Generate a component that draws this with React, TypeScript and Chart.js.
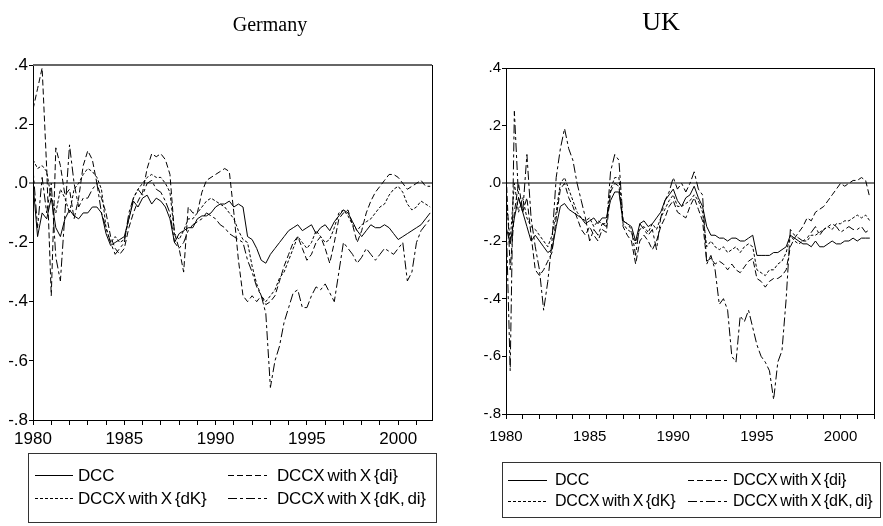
import React, { useEffect, useRef } from "react";
import { Chart, registerables } from "chart.js";
Chart.register(...registerables);

// quarterly observation dates
const DATES = [
  1980, 1980.25, 1980.5, 1980.75, 1981, 1981.25, 1981.5, 1981.75,
  1982, 1982.25, 1982.5, 1982.75, 1983, 1983.25, 1983.5, 1983.75,
  1984, 1984.25, 1984.5, 1984.75, 1985, 1985.25, 1985.5, 1985.75,
  1986, 1986.25, 1986.5, 1986.75, 1987, 1987.25, 1987.5, 1987.75,
  1988, 1988.25, 1988.5, 1988.75, 1989, 1989.25, 1989.5, 1989.75,
  1990, 1990.25, 1990.5, 1990.75, 1991, 1991.25, 1991.5, 1991.75,
  1992, 1992.25, 1992.5, 1992.75, 1993, 1993.25, 1993.5, 1993.75,
  1994, 1994.25, 1994.5, 1994.75, 1995, 1995.25, 1995.5, 1995.75,
  1996, 1996.25, 1996.5, 1996.75, 1997, 1997.25, 1997.5, 1997.75,
  1998, 1998.25, 1998.5, 1998.75, 1999, 1999.25, 1999.5, 1999.75,
  2000, 2000.25, 2000.5, 2000.75, 2001, 2001.25, 2001.5, 2001.75,
];

const SERIES_LABELS = ["DCC", "DCCX with X {di}", "DCCX with X {dK}", "DCCX with X {dK, di}"];
const TITLES = ["Germany", "UK"];
const Y_TICKS = [-0.8, -0.6, -0.4, -0.2, 0.0, 0.2, 0.4];

// Germany
const G_DCC = [
  0.00, -0.18, -0.10, -0.12, -0.05, -0.15, -0.18, -0.12,
  -0.09, -0.11, -0.12, -0.10, -0.10, -0.08, -0.08, -0.10,
  -0.17, -0.21, -0.20, -0.19, -0.18, -0.12, -0.06, -0.08,
  -0.05, -0.04, -0.07, -0.05, -0.06, -0.08, -0.12, -0.20,
  -0.17, -0.16, -0.15, -0.15, -0.12, -0.11, -0.11, -0.10,
  -0.08, -0.07, -0.07, -0.06, -0.08, -0.07, -0.08, -0.18,
  -0.19, -0.22, -0.26, -0.27, -0.24, -0.22, -0.20, -0.18,
  -0.16, -0.15, -0.14, -0.16, -0.15, -0.14, -0.17, -0.15,
  -0.14, -0.16, -0.13, -0.11, -0.09, -0.10, -0.13, -0.16,
  -0.18, -0.16, -0.14, -0.15, -0.15, -0.14, -0.15, -0.17,
  -0.19, -0.18, -0.17, -0.16, -0.15, -0.14, -0.12, -0.10,
];
const G_DI = [
  0.25, 0.32, 0.39, 0.05, -0.38, 0.12, 0.06, -0.04,
  -0.02, -0.12, -0.05, 0.06, 0.11, 0.08, 0.00, -0.05,
  -0.10, -0.18, -0.22, -0.24, -0.22, -0.15, -0.10, -0.06,
  -0.03, 0.05, 0.10, 0.09, 0.10, 0.08, 0.03, -0.17,
  -0.22, -0.30, -0.08, -0.10, -0.10, -0.03, 0.01, 0.02,
  0.03, 0.04, 0.05, 0.04, -0.10, -0.26, -0.38, -0.40,
  -0.38, -0.40, -0.38, -0.41, -0.40, -0.38, -0.33, -0.28,
  -0.24, -0.20, -0.18, -0.22, -0.26, -0.24, -0.20, -0.18,
  -0.22, -0.27, -0.20, -0.12, -0.10, -0.09, -0.14, -0.20,
  -0.16, -0.10, -0.06, -0.03, -0.01, 0.01, 0.03, 0.03,
  0.02, 0.00, -0.02, -0.01, 0.00, 0.01, -0.01, -0.01,
];
const G_DK = [
  0.08, 0.05, 0.06, 0.04, -0.05, -0.10, -0.02, -0.05,
  -0.10, -0.02, 0.00, 0.03, 0.05, 0.04, 0.02, -0.02,
  -0.15, -0.20, -0.18, -0.20, -0.19, -0.12, -0.05, -0.02,
  0.00, 0.02, 0.03, 0.02, 0.02, 0.00, -0.03, -0.17,
  -0.19, -0.16, -0.12, -0.12, -0.10, -0.08, -0.06, -0.05,
  -0.06, -0.07, -0.08, -0.10, -0.12, -0.16, -0.19, -0.20,
  -0.28, -0.34, -0.38, -0.40, -0.38, -0.36, -0.32, -0.30,
  -0.26, -0.22, -0.18, -0.20, -0.22, -0.20, -0.16, -0.18,
  -0.20, -0.19, -0.15, -0.10, -0.09, -0.11, -0.14, -0.16,
  -0.14, -0.13, -0.12, -0.10, -0.08, -0.07, -0.04, -0.02,
  -0.01, -0.03, -0.07, -0.09, -0.08, -0.06, -0.07, -0.08,
];
const G_DKDI = [
  0.05, -0.15, 0.02, -0.10, 0.00, -0.25, -0.33, -0.10,
  0.13, 0.00, -0.08, -0.05, -0.05, -0.02, 0.00, -0.10,
  -0.15, -0.20, -0.24, -0.22, -0.20, -0.10, -0.05, -0.02,
  -0.04, 0.00, 0.01, -0.02, -0.03, -0.06, -0.10, -0.20,
  -0.22, -0.20, -0.16, -0.14, -0.13, -0.12, -0.10, -0.11,
  -0.12, -0.14, -0.15, -0.17, -0.18, -0.19, -0.20, -0.26,
  -0.30, -0.35, -0.38, -0.44, -0.69, -0.60, -0.55, -0.47,
  -0.42, -0.37, -0.36, -0.42, -0.42, -0.38, -0.35, -0.36,
  -0.34, -0.37, -0.40, -0.30, -0.20, -0.22, -0.24, -0.27,
  -0.25, -0.22, -0.24, -0.26, -0.24, -0.22, -0.23, -0.24,
  -0.22, -0.20, -0.33, -0.30, -0.20, -0.16, -0.14, -0.12,
];

// UK
const U_DCC = [
  -0.15, -0.21, -0.12, -0.05, -0.10, -0.15, -0.20, -0.18,
  -0.20, -0.22, -0.24, -0.23, -0.15, -0.08, -0.07, -0.09,
  -0.10, -0.11, -0.12, -0.14, -0.13, -0.12, -0.14, -0.12,
  -0.12, -0.06, -0.03, -0.03, -0.13, -0.14, -0.15, -0.20,
  -0.14, -0.13, -0.15, -0.14, -0.12, -0.10, -0.06, -0.04,
  -0.02, -0.06, -0.08, -0.05, -0.04, -0.01, -0.05, -0.08,
  -0.15, -0.18, -0.18, -0.19, -0.19, -0.20, -0.19, -0.19,
  -0.20, -0.20, -0.19, -0.18, -0.25, -0.25, -0.25, -0.25,
  -0.24, -0.24, -0.23, -0.22, -0.18, -0.19, -0.20, -0.21,
  -0.21, -0.22, -0.20, -0.22, -0.22, -0.21, -0.20, -0.21,
  -0.21, -0.20, -0.20, -0.19, -0.20, -0.19, -0.19, -0.19,
];
const U_DI = [
  0.05, -0.30, -0.10, 0.00, -0.10, -0.05, -0.18, -0.30,
  -0.32, -0.30, -0.27, -0.24, -0.12, -0.02, 0.00, -0.05,
  -0.08, -0.12, -0.16, -0.18, -0.15, -0.18, -0.20, -0.16,
  -0.17, -0.03, 0.00, -0.01, -0.15, -0.18, -0.20, -0.28,
  -0.20, -0.18, -0.20, -0.23, -0.20, -0.15, -0.12, -0.08,
  -0.06, -0.10, -0.11, -0.12, -0.08, -0.05, -0.09, -0.13,
  -0.27, -0.26, -0.28, -0.27, -0.28, -0.30, -0.28, -0.30,
  -0.31, -0.29, -0.27, -0.26, -0.33, -0.34, -0.36, -0.34,
  -0.33, -0.33, -0.32, -0.30, -0.22, -0.19, -0.17, -0.15,
  -0.12, -0.13, -0.10, -0.09, -0.08, -0.06, -0.04, -0.02,
  0.00, -0.01, 0.00, 0.01, 0.01, 0.02, 0.01, -0.05,
];
const U_DK = [
  -0.05, -0.20, 0.00, -0.10, -0.05, -0.12, -0.15, -0.16,
  -0.18, -0.20, -0.22, -0.18, -0.10, 0.00, 0.02, -0.02,
  -0.06, -0.10, -0.12, -0.13, -0.12, -0.15, -0.13, -0.14,
  -0.14, -0.02, 0.02, 0.02, -0.14, -0.16, -0.17, -0.21,
  -0.16, -0.15, -0.17, -0.14, -0.16, -0.12, -0.09, -0.06,
  -0.04, -0.08, -0.08, -0.07, -0.06, -0.04, -0.06, -0.10,
  -0.22, -0.20, -0.22, -0.23, -0.22, -0.24, -0.23, -0.22,
  -0.24, -0.22, -0.21, -0.22, -0.30, -0.31, -0.32, -0.30,
  -0.30, -0.28, -0.27, -0.24, -0.18, -0.20, -0.21, -0.20,
  -0.20, -0.18, -0.18, -0.17, -0.16, -0.15, -0.16, -0.14,
  -0.14, -0.13, -0.13, -0.12, -0.11, -0.12, -0.11, -0.13,
];
const U_DKDI = [
  -0.10, -0.65, 0.25, -0.05, -0.10, 0.10, -0.12, -0.22,
  -0.30, -0.44, -0.34, -0.20, 0.02, 0.12, 0.19, 0.12,
  0.08, 0.00, -0.06, -0.12, -0.20, -0.16, -0.18, -0.14,
  -0.15, 0.04, 0.10, 0.08, -0.13, -0.14, -0.16, -0.25,
  -0.14, -0.16, -0.18, -0.16, -0.23, -0.12, -0.06, -0.03,
  0.02, -0.02, 0.00, -0.03, 0.00, 0.04, -0.02, -0.04,
  -0.28, -0.25, -0.30, -0.42, -0.40, -0.44, -0.60, -0.62,
  -0.46, -0.48, -0.44, -0.50, -0.56, -0.60, -0.62, -0.65,
  -0.75, -0.62, -0.58, -0.40, -0.16, -0.18, -0.19, -0.20,
  -0.19, -0.17, -0.15, -0.18, -0.16, -0.15, -0.14, -0.15,
  -0.17, -0.16, -0.15, -0.16, -0.16, -0.15, -0.17, -0.16,
];

const DASHES: number[][] = [[], [6, 3], [3, 2], [9, 3, 3, 3]];

type Panel = {
  left: number; width: number;
  plotLeft: number; plotTop: number; plotRight: number; plotBottom: number;
  xMax: number; tickFont: number; xPad: number;
  series: number[][];
  legendBox: [number, number, number, number];
  legendRows: [number, number];
  legendCols: [number, number, number][];
  legendFont: number;
  topColor: string; topWidth: number;
};

const fmtY = (v: number) => {
  const r = Math.round(v * 10) / 10;
  return r.toFixed(1).replace(/^(-?)0\./, "$1.").replace(/^-\.0$/, ".0");
};

function makeChart(canvas: HTMLCanvasElement, p: Panel) {
  const H = 526;
  const framePlugin = {
    id: "frame",
    afterDraw(chart: any) {
      const { ctx, chartArea: a } = chart;
      ctx.save();
      ctx.setLineDash([]);
      ctx.strokeStyle = p.topColor;
      ctx.lineWidth = p.topWidth;
      ctx.beginPath();
      ctx.moveTo(a.left, a.top + (p.topWidth === 1 ? 0.5 : 0));
      ctx.lineTo(a.right, a.top + (p.topWidth === 1 ? 0.5 : 0));
      ctx.stroke();
      ctx.strokeStyle = "#000";
      ctx.lineWidth = 1;
      ctx.beginPath();
      ctx.moveTo(Math.round(a.right) + 0.5, a.top);
      ctx.lineTo(Math.round(a.right) + 0.5, a.bottom);
      ctx.stroke();
      // legend
      const [x0, y0, x1, y1] = p.legendBox;
      ctx.strokeStyle = "#333";
      ctx.lineWidth = 1;
      ctx.strokeRect(x0 + 0.5, y0 + 0.5, x1 - x0, y1 - y0);
      ctx.font = `${p.legendFont}px "Liberation Sans", Arial, sans-serif`;
      try {
        (ctx as any).letterSpacing = "-0.2px";
        (ctx as any).wordSpacing = "-1.5px";
      } catch (e) {}
      ctx.fillStyle = "#000";
      ctx.textBaseline = "middle";
      ctx.textAlign = "left";
      SERIES_LABELS.forEach((lab, i) => {
        const row = i === 0 || i === 1 ? 0 : 1;
        const col = i === 0 || i === 2 ? 0 : 1;
        const [lx0, lx1, tx] = p.legendCols[col];
        const y = p.legendRows[row];
        ctx.strokeStyle = "#000";
        ctx.setLineDash(DASHES[i]);
        ctx.beginPath();
        ctx.moveTo(lx0, y + 0.5);
        ctx.lineTo(lx1, y + 0.5);
        ctx.stroke();
        ctx.setLineDash([]);
        ctx.fillText(lab, tx, y + 1);
      });
      ctx.restore();
    },
  };

  return new Chart(canvas, {
    type: "line",
    data: {
      datasets: p.series.map((s, i) => ({
        label: SERIES_LABELS[i],
        data: DATES.map((d, j) => ({ x: d, y: s[j] })),
        borderColor: "#000",
        borderWidth: 1,
        borderDash: DASHES[i],
        pointRadius: 0,
        tension: 0,
        fill: false,
      })),
    },
    options: {
      animation: false,
      responsive: false,
      devicePixelRatio: 1,
      layout: {
        padding: {
          left: 0,
          top: p.plotTop,
          right: p.width - p.plotRight,
          bottom: H - p.plotBottom - 30,
        },
      },
      plugins: { legend: { display: false }, tooltip: { enabled: false }, title: { display: false } },
      scales: {
        x: {
          type: "linear",
          min: 1980,
          max: p.xMax,
          afterFit: (s: any) => { s.height = 30; },
          ticks: {
            stepSize: 1,
            autoSkip: false,
            includeBounds: false,
            maxRotation: 0,
            padding: p.xPad,
            color: "#000",
            font: { family: '"Liberation Sans", Arial, sans-serif', size: p.tickFont },
            callback: (v: any) => (Math.round(v) % 5 === 0 ? String(Math.round(v)) : ""),
          },
          grid: { display: true, drawOnChartArea: false, drawTicks: true, tickLength: 5, tickColor: "#000", tickWidth: 1 },
          border: { display: true, color: "#000", width: 1 },
        },
        y: {
          type: "linear",
          min: Y_TICKS[0],
          max: Y_TICKS[Y_TICKS.length - 1],
          afterFit: (s: any) => { s.width = p.plotLeft; },
          ticks: {
            stepSize: 0.2,
            padding: 1,
            color: "#000",
            font: { family: '"Liberation Sans", Arial, sans-serif', size: p.tickFont },
            callback: (v: any) => fmtY(Number(v)),
          },
          grid: {
            display: true,
            drawOnChartArea: true,
            drawTicks: true,
            tickLength: 4,
            tickColor: "#000",
            tickWidth: 1,
            color: (c: any) => (c.tick && Math.abs(c.tick.value) < 1e-9 ? "#777" : "rgba(0,0,0,0)"),
            lineWidth: (c: any) => (c.tick && Math.abs(c.tick.value) < 1e-9 ? 2 : 1),
          },
          border: { display: true, color: "#000", width: 1 },
        },
      },
    },
    plugins: [framePlugin],
  } as any);
}

const PANELS: Panel[] = [
  {
    left: 0, width: 440,
    plotLeft: 33, plotTop: 65, plotRight: 432, plotBottom: 420,
    xMax: 2001.85, tickFont: 17, xPad: 4,
    series: [G_DCC, G_DI, G_DK, G_DKDI],
    legendBox: [28, 453, 436, 522],
    legendRows: [475, 498],
    legendCols: [[35, 73, 78], [228, 267, 277]],
    legendFont: 17,
    topColor: "#666", topWidth: 2,
  },
  {
    left: 440, width: 443,
    plotLeft: 66, plotTop: 68, plotRight: 441, plotBottom: 414,
    xMax: 2002.0, tickFont: 15, xPad: 9,
    series: [U_DCC, U_DI, U_DK, U_DKDI],
    legendBox: [62, 462, 440, 517],
    legendRows: [480, 501],
    legendCols: [[68, 107, 115], [248, 287, 293]],
    legendFont: 16,
    topColor: "#000", topWidth: 1,
  },
];

function PanelChart({ p }: { p: Panel }) {
  const ref = useRef<HTMLCanvasElement | null>(null);
  useEffect(() => {
    if (!ref.current) return;
    const c = makeChart(ref.current, p);
    return () => c.destroy();
  }, [p]);
  return (
    <canvas
      ref={ref}
      width={p.width}
      height={526}
      style={{ position: "absolute", left: p.left, top: 0, width: p.width, height: 526 }}
    />
  );
}

export default function App() {
  return (
    <div style={{ position: "absolute", left: 0, top: 0, width: 883, height: 526, background: "#fff", overflow: "hidden" }}>
      {PANELS.map((p, i) => (
        <PanelChart key={i} p={p} />
      ))}
      <div style={{ position: "absolute", left: 200, width: 140, top: 14, textAlign: "center", fontFamily: '"Liberation Serif", "Times New Roman", serif', fontSize: 20, lineHeight: "20px", color: "#000" }}>
        {TITLES[0]}
      </div>
      <div style={{ position: "absolute", left: 611, width: 100, top: 9, textAlign: "center", fontFamily: '"Liberation Serif", "Times New Roman", serif', fontSize: 26, lineHeight: "26px", color: "#000" }}>
        {TITLES[1]}
      </div>
    </div>
  );
}
